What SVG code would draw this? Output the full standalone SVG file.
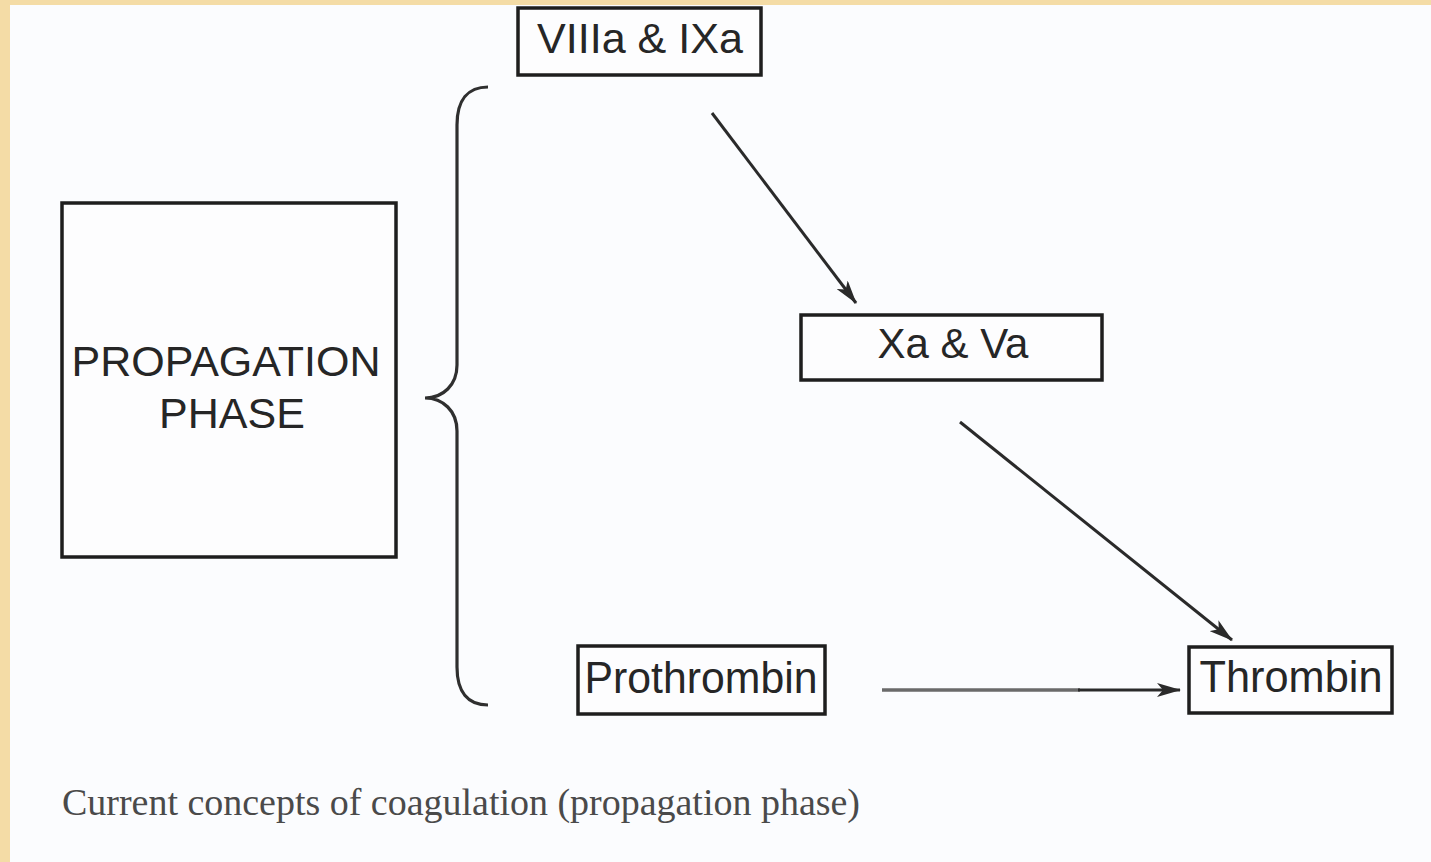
<svg xmlns="http://www.w3.org/2000/svg" width="1431" height="862" viewBox="0 0 1431 862">
<style>
.box{fill:#fdfdfe;stroke:#1e1e1e;stroke-width:3.5}
.lbl{font-family:"Liberation Sans",Arial,sans-serif;fill:#262626;text-anchor:middle}
.conn{stroke:#2a2a2a;stroke-width:3;fill:none}
</style>
<defs>
<marker id="ah" viewBox="0 0 24 14" refX="23" refY="7" markerWidth="24" markerHeight="14" markerUnits="userSpaceOnUse" orient="auto">
<path d="M0,0 L24,7 L0,14 L6,7 Z" fill="#2a2a2a"/>
</marker>
</defs>
<rect width="1431" height="862" fill="#f4dca6"/>
<rect x="10" y="5" width="1421" height="857" fill="#fbfcfe"/>
<g id="propagation-phase">
<rect class="box" x="62" y="203" width="334" height="354"/>
<text class="lbl" x="226" y="376" font-size="43">PROPAGATION</text>
<text class="lbl" x="232" y="428" font-size="43">PHASE</text>
</g>
<g id="brace">
<path d="M488,87 C468,87 457,100 457,125 L457,365 C457,385 443,398 425,398 C443,398 457,411 457,431 L457,667 C457,692 468,705 488,705" fill="none" stroke="#2f2f2f" stroke-width="3.2"/>
</g>
<g id="viiia-ixa">
<rect class="box" x="518" y="8" width="243" height="67"/>
<text class="lbl" x="640" y="53" font-size="42" textLength="206" lengthAdjust="spacingAndGlyphs">VIIIa &amp; IXa</text>
</g>
<g id="xa-va">
<rect class="box" x="801" y="315" width="301" height="65"/>
<text class="lbl" x="953" y="358" font-size="42">Xa &amp; Va</text>
</g>
<g id="prothrombin">
<rect class="box" x="578" y="646" width="247" height="68"/>
<text class="lbl" x="701" y="693" font-size="44" textLength="233" lengthAdjust="spacingAndGlyphs">Prothrombin</text>
</g>
<g id="thrombin">
<rect class="box" x="1189" y="647" width="203" height="66"/>
<text class="lbl" x="1291" y="692" font-size="44" textLength="183" lengthAdjust="spacingAndGlyphs">Thrombin</text>
</g>
<g id="connectors">
<line class="conn" x1="712" y1="113" x2="856" y2="303" marker-end="url(#ah)"/>
<line class="conn" x1="960" y1="422" x2="1232" y2="640" marker-end="url(#ah)"/>
<line x1="882" y1="690" x2="1080" y2="690" stroke="#6a6a6a" stroke-width="3.5"/>
<line class="conn" x1="1078" y1="690" x2="1180" y2="690" marker-end="url(#ah)"/>
</g>
<text x="62" y="815" font-family="'Liberation Serif','Times New Roman',serif" font-size="37" fill="#4a4a4a" textLength="798" lengthAdjust="spacingAndGlyphs">Current concepts of coagulation (propagation phase)</text>
</svg>
